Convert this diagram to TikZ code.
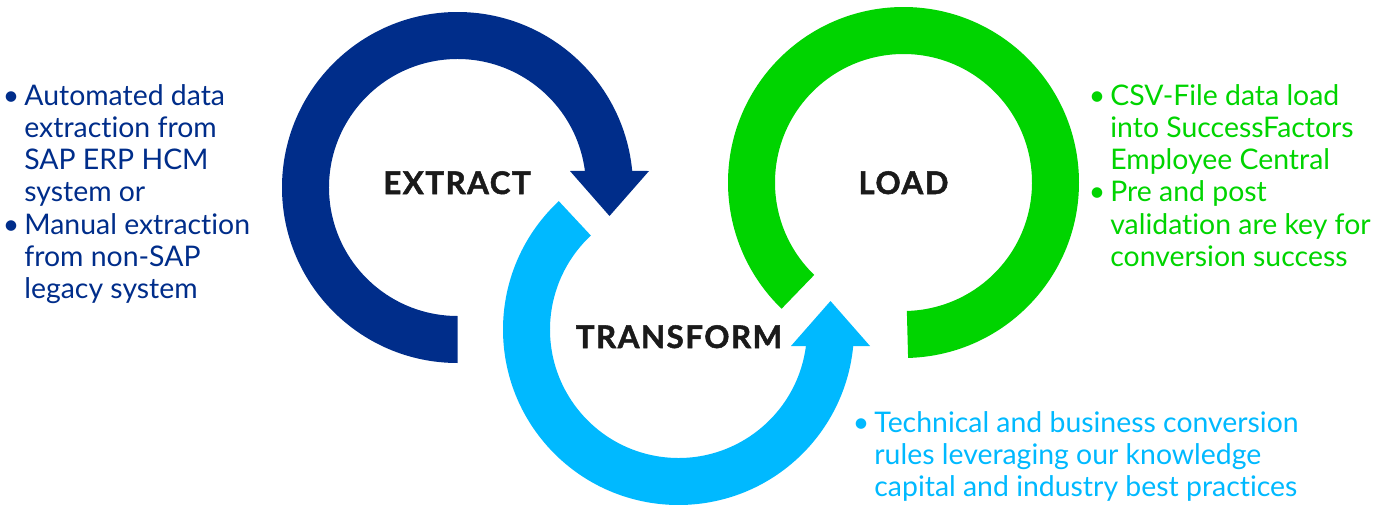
\documentclass[tikz,border=0pt]{standalone}
\usepackage{fontspec}
\setmainfont{Lato}[Ligatures={NoCommon}]
\usetikzlibrary{calc}
\definecolor{extractc}{RGB}{0,45,138}
\definecolor{transformc}{RGB}{0,185,255}
\definecolor{loadc}{RGB}{0,212,0}
\definecolor{lblc}{RGB}{26,26,26}
\begin{document}
\begin{tikzpicture}[x=0.5pt,y=0.5pt]
    \tikzstyle{lbl}=[anchor=base,inner sep=0pt,text=lblc,
                     font=\fontsize{15.6}{18}\selectfont\bfseries\addfontfeature{FakeBold=1.6,LetterSpace=5}]
    \tikzstyle{txt}=[anchor=north west,align=left,inner sep=0pt,
                     font=\fontsize{14.2}{16.1}\selectfont]
    \newcommand\puce{\llap{\textbullet\hspace{2.5pt}}}
    \useasboundingbox (0,0) rectangle (1389,505);
    \coordinate (E) at (457.5,317.5);
    \coordinate (T) at (678.5,175.5);
    \coordinate (L) at (903.5,322.5);
    % extract
    \fill[extractc] ($(E)+(270:175.5)$) arc[start angle=270,end angle=5.4,radius=175.5]
        -- ($(E)+(191.5,16.5)$) -- ($(E)+(152,-28.5)$) -- ($(E)+(112.5,16.5)$)
        -- ($(E)+(7.4:128.5)$) arc[start angle=7.4,end angle=270,radius=128.5] -- cycle;
    % transform
    \fill[transformc] ($(T)+(133:175.5)$) arc[start angle=133,end angle=354.6,radius=175.5]
        -- ($(T)+(191.5,-16.5)$) -- ($(T)+(152,28.5)$) -- ($(T)+(112.5,-16.5)$)
        -- ($(T)+(352.6:128.5)$) arc[start angle=352.6,end angle=133,radius=128.5] -- cycle;
    % load
    \fill[loadc] ($(L)+(-88.5:175.5)$) arc[start angle=-88.5,end angle=226,radius=175.5]
        -- ($(L)+(226:128.5)$) arc[start angle=226,end angle=-88.5,radius=128.5] -- cycle;
    \node[lbl] (extract) at (457,311) {EXTRACT};
    \node[lbl] (transform) at (679,157) {TRANSFORM};
    \node[lbl] (load) at (903.5,311) {LOAD};
    \node[txt,text=extractc] (extracttxt) at (24,421)
        {\puce Automated data\\extraction from\\SAP ERP HCM\\system or\\
         \puce Manual extraction\\from non-SAP\\legacy system};
    \node[txt,text=loadc] (loadtxt) at (1110,421)
        {\puce CSV-File data load\\into SuccessFactors\\Employee Central\\
         \puce Pre and post\\validation are key for\\conversion success};
    \node[txt,text=transformc] (transformtxt) at (874,94)
        {\puce Technical and business conversion\\rules leveraging our knowledge\\capital and industry best practices};
\end{tikzpicture}
\end{document}
